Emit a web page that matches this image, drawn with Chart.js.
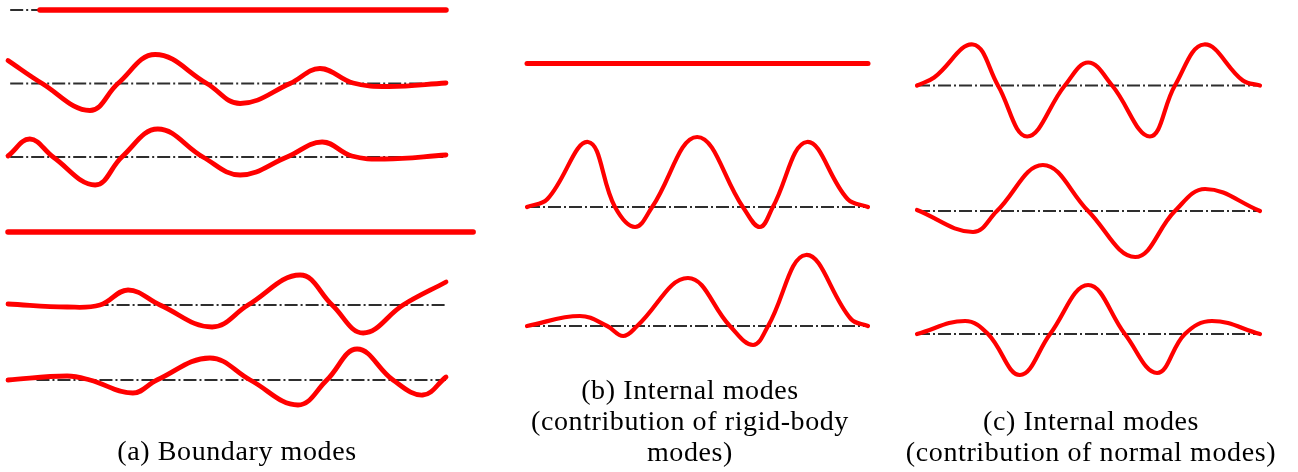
<!DOCTYPE html>
<html>
<head>
<meta charset="utf-8">
<script src="https://cdn.jsdelivr.net/npm/chart.js@4"></script>
<style>
  html, body { margin: 0; padding: 0; background: #fff; }
  body { width: 1298px; height: 472px; position: relative; overflow: hidden; }
  canvas { position: absolute; top: 0; }
  .caption {
    position: absolute;
    width: 420px;
    text-align: center;
    font-family: "Liberation Serif", serif;
    font-size: 28px;
    letter-spacing: 0.6px;
    line-height: 31px;
    color: #000;
  }
</style>
</head>
<body>
<canvas id="boundaryChart" width="490" height="472" style="left:0px"></canvas>
<canvas id="rigidChart" width="410" height="472" style="left:490px"></canvas>
<canvas id="normalChart" width="398" height="472" style="left:900px"></canvas>

<div class="caption" style="left:27px; top:435px">(a) Boundary modes</div>
<div class="caption" style="left:480px; top:374px">(b) Internal modes<br>(contribution of rigid-body<br>modes)</div>
<div class="caption" style="left:881px; top:405px">(c) Internal modes<br>(contribution of normal modes)</div>

<script>
// Positions along the span (0-100) and modal displacement (up is positive):
// peaks, troughs, zero crossings and the end values of each mode shape

// (a) boundary modes
const boundary1Pos = [7.3, 100];
const boundary1Amp = [0, 0];
const boundary2Pos = [0, 7.8, 18.7, 25.1, 33.6, 45.4, 53.0, 64.4, 71.2, 78.8, 87, 100];
const boundary2Amp = [23, 0, -27, 0, 29, 0, -20, 0, 15, 0.5, -3, 0.5];
const boundary3Pos = [0, 5.0, 10.3, 19.9, 26.0, 34.2, 44.5, 53.0, 63.7, 71.7, 78.5, 86, 100];
const boundary3Amp = [1, 18, 0, -28, 0, 28, 0, -18, 0, 15, 1, -2, 2];
const boundary4Pos = [0, 106.2];
const boundary4Amp = [0, 0];
const boundary5Pos = [0, 13.5, 21, 27.4, 34.7, 46.6, 54.8, 66.7, 74, 81.1, 90.2, 100];
const boundary5Amp = [1, -2, 0, 15, 0, -22, 0, 30, 0, -28, 0, 23];
const boundary6Pos = [0, 13.5, 18.7, 28.5, 34, 46.1, 55.3, 66.2, 72.8, 79.7, 87.9, 94.7, 100];
const boundary6Amp = [0, 4, 0, -13, 0, 22, 0, -25, 0, 31, 0, -15, 3];

// (b) internal modes, rigid-body contribution
const rigid1Pos = [0, 100];
const rigid1Amp = [0, 0];
const rigid2Pos = [0, 6, 17.9, 25.8, 31.7, 36.7, 49.9, 63.3, 68.3, 72.1, 82.1, 94, 100];
const rigid2Amp = [0, 8, 65, 0, -20, 0, 70, 0, -20, 0, 65, 8, 0];
const rigid3Pos = [0, 15.5, 23.5, 28.2, 32.3, 47.2, 59.5, 66.3, 70.7, 81.8, 95, 100];
const rigid3Amp = [0, 10, 0, -10, 0, 48, 0, -19, 0, 71, 7, 0];

// (c) internal modes, normal-mode contribution
const normal1Pos = [0, 5, 16.3, 23.6, 32.1, 43.1, 49.9, 56.9, 67.9, 75.2, 83.7, 95, 100];
const normal1Amp = [0, 8, 41, 0, -51, 0, 23, 0, -51, 0, 41, 5, 0];
const normal2Pos = [0, 16.3, 23.3, 36.7, 49.9, 63.6, 75.2, 84, 100];
const normal2Amp = [1, -21, 0, 46, 0, -46, 0, 22, 0];
const normal3Pos = [0, 14, 20.7, 30, 38.8, 49.9, 60.6, 70, 78.1, 86, 100];
const normal3Amp = [0, 13, 0, -41, 0, 49, 0, -39, 0, 13, 0];

const RED = "rgb(255, 0, 0)";
const AXIS = "#2e2e2e";

// builds the stacked rows of one panel: each mode sits on its own dash-dot axis
function makePanel(canvasId, modes, offsets, axes, widths, pad) {
    const datasets = [];
    modes.forEach((m, i) => {
        const pts = m[0].map((x, k) => ({ x: x, y: m[1][k] - offsets[i] }));
        datasets.push({
            data: pts,
            borderColor: RED,
            borderWidth: widths[i],
            borderCapStyle: "round",
            borderJoinStyle: "round",
            tension: 0.4,
            pointRadius: 0,
            fill: false,
            clip: false,
            order: 0
        });
        if (axes[i]) {
            datasets.push({
                data: [{ x: axes[i][0], y: -offsets[i] }, { x: axes[i][1], y: -offsets[i] }],
                borderColor: AXIS,
                borderWidth: 1.8,
                borderDash: [13, 3, 2, 3],
                pointRadius: 0,
                fill: false,
                clip: false,
                order: 1
            });
        }
    });

    return new Chart(document.getElementById(canvasId), {
        type: "line",
        data: { datasets: datasets },
        options: {
            responsive: false,
            animation: false,
            events: [],
            layout: { padding: { left: pad[0], right: pad[1], top: 0, bottom: 0 } },
            scales: {
                x: { type: "linear", min: 0, max: 100, display: false },
                y: { type: "linear", min: -472, max: 0, display: false }
            },
            plugins: {
                legend: { display: false },
                tooltip: { enabled: false }
            }
        }
    });
}

const boundaryChart = makePanel(
    "boundaryChart",
    [[boundary1Pos, boundary1Amp], [boundary2Pos, boundary2Amp], [boundary3Pos, boundary3Amp],
     [boundary4Pos, boundary4Amp], [boundary5Pos, boundary5Amp], [boundary6Pos, boundary6Amp]],
    [10, 83.5, 157, 232, 305, 380],
    [[0.5, 100], [0.5, 100], [0.5, 100], null, [20, 100], [6.5, 100]],
    [5.5, 4.8, 4.8, 5.5, 4.8, 4.8],
    [8, 44]
);

const rigidChart = makePanel(
    "rigidChart",
    [[rigid1Pos, rigid1Amp], [rigid2Pos, rigid2Amp], [rigid3Pos, rigid3Amp]],
    [63.5, 207, 326],
    [null, [0, 100], [0, 100]],
    [5, 4.2, 4.2],
    [37, 32]
);

const normalChart = makePanel(
    "normalChart",
    [[normal1Pos, normal1Amp], [normal2Pos, normal2Amp], [normal3Pos, normal3Amp]],
    [85.5, 211, 334],
    [[0, 100], [0, 100], [0, 100]],
    [4.2, 4.2, 4.2],
    [17, 38]
);
</script>
</body>
</html>
